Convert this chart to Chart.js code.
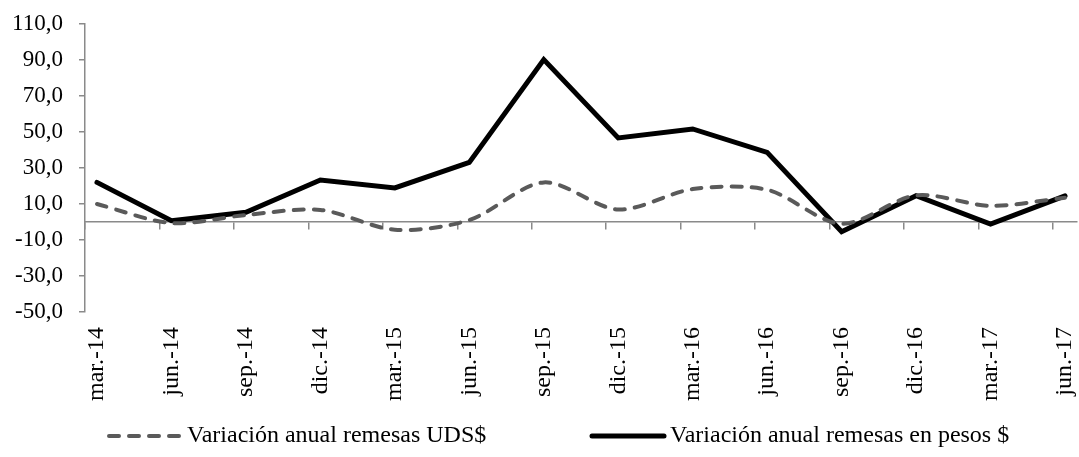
<!DOCTYPE html>
<html>
<head>
<meta charset="utf-8">
<script src="https://cdn.jsdelivr.net/npm/chart.js"></script>
<style>
  body { margin: 0; background: #fff; }
  #wrap { width: 1079px; height: 457px; }
</style>
</head>
<body>
<div id="wrap"><canvas id="myChart"></canvas></div>
<script>
// --- Data ---
const quarters = ['mar.-14', 'jun.-14', 'sep.-14', 'dic.-14', 'mar.-15', 'jun.-15', 'sep.-15',
                  'dic.-15', 'mar.-16', 'jun.-16', 'sep.-16', 'dic.-16', 'mar.-17', 'jun.-17']
const remesasUSD = [10.0, -0.6, 3.9, 6.7, -4.3, 1.1, 22.0, 6.9, 18.3, 17.9, -1.0, 14.8, 9.0, 13.5]
const remesasPesos = [22.0, 0.7, 5.4, 23.3, 18.9, 33.1, 90.2, 46.7, 51.7, 38.7, -5.4, 14.6, -1.1, 14.5]
const labelUSD = 'Variación anual remesas UDS$'
const labelPesos = 'Variación anual remesas en pesos $'

// --- Vars ---
const ctx = document.getElementById('myChart').getContext('2d');
const axisColor = '#8a8a8a'
const fontFamily = '"Liberation Serif", "Times New Roman", serif'
const edge = 0.161   // gap between axis and first / last point, in categories
const legendY = 436
const legendX = [107, 590]

Chart.defaults.font.family = fontFamily
Chart.defaults.color = '#000'

// points as {x, y} so they sit on the linear x scale
const toPoints = (arr) => arr.map((v, i) => ({ x: i, y: v }))

// no extra padding asked by the tick labels, layout padding handles it
const noPadding = (s) => { s.paddingLeft = 0; s.paddingRight = 0; s.paddingTop = 0; s.paddingBottom = 0 }

// legend drawn by hand: line sample + label, same style as the dataset
const legendLine = {
    id: 'legendLine',
    afterDraw(chart) {
        const c = chart.ctx
        chart.data.datasets.forEach((ds, i) => {
            const x = legendX[i]
            c.save()
            c.strokeStyle = ds.borderColor
            c.lineWidth = ds.borderWidth
            c.lineCap = ds.borderCapStyle || 'butt'
            c.setLineDash(ds.borderDash || [])
            c.beginPath()
            c.moveTo(x + 2, legendY)
            c.lineTo(x + 74, legendY)
            c.stroke()
            c.setLineDash([])
            c.font = '24px ' + fontFamily
            c.fillStyle = '#000'
            c.textBaseline = 'middle'
            c.fillText(ds.label, x + 80, legendY)
            c.restore()
        })
    }
}

// --- Chart ---
const myChart = new Chart(ctx, {
    type: 'line',
    data: {
        datasets: [{
            label: labelUSD,
            data: toPoints(remesasUSD),
            borderColor: '#5a5a5a',
            backgroundColor: '#5a5a5a',
            borderWidth: 4,
            borderDash: [10, 10],
            borderCapStyle: 'round',
            tension: 0.3,
            pointRadius: 0
        }, {
            label: labelPesos,
            data: toPoints(remesasPesos),
            borderColor: '#000',
            backgroundColor: '#000',
            borderWidth: 5,
            borderCapStyle: 'round',
            tension: 0,
            pointRadius: 0
        }]
    },
    options: {
        responsive: true,
        maintainAspectRatio: false,
        animation: false,
        layout: { padding: { left: 0, right: 2, top: 24, bottom: 45 } },
        scales: {
            y: {
                min: -50,
                max: 110,
                ticks: {
                    stepSize: 20,
                    padding: 16,
                    font: { size: 23 },
                    callback: (v) => v.toFixed(1).replace('.', ',')
                },
                grid: { drawOnChartArea: false, drawTicks: true, tickLength: 6, color: axisColor, lineWidth: 1.5 },
                border: { color: axisColor, width: 1.5 },
                afterFit: (s) => { s.width = 85; noPadding(s) }
            },
            x: {
                type: 'linear',
                min: -edge,
                max: quarters.length - 1 + edge,
                afterBuildTicks: (s) => { s.ticks = quarters.map((q, i) => ({ value: i })) },
                ticks: {
                    autoSkip: false,
                    minRotation: 90,
                    maxRotation: 90,
                    padding: 15,
                    font: { size: 24 },
                    callback: (v, i) => quarters[i]
                },
                grid: { display: false, drawTicks: false },
                border: { display: false },
                afterFit: (s) => { s.height = 100; noPadding(s) }
            },
            // zero line with its small tick marks
            xZero: {
                type: 'linear',
                axis: 'x',
                position: { y: 0 },
                min: -edge,
                max: quarters.length - 1 + edge,
                afterBuildTicks: (s) => { s.ticks = quarters.map((q, i) => ({ value: i - edge })) },
                ticks: { display: false },
                grid: { drawOnChartArea: false, drawTicks: true, tickLength: 7, color: axisColor, lineWidth: 1.5 },
                border: { color: axisColor, width: 1.5 },
                afterFit: noPadding
            }
        },
        plugins: {
            legend: { display: false },
            tooltip: { enabled: false }
        }
    },
    plugins: [legendLine]
});
</script>
</body>
</html>
